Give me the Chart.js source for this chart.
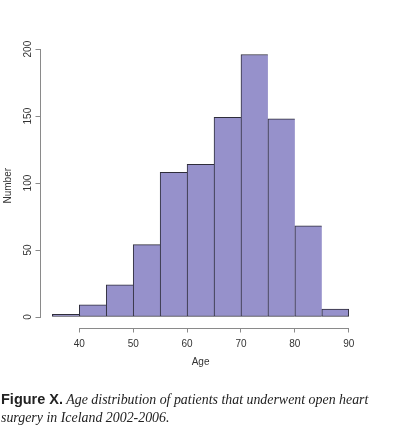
<!DOCTYPE html>
<html>
<head>
<meta charset="utf-8">
<script src="https://cdn.jsdelivr.net/npm/chart.js@4/dist/chart.umd.min.js"></script>
<style>
  html, body { margin: 0; padding: 0; background: #fff; }
  #wrap { position: relative; width: 400px; height: 444px; }
  #c { position: absolute; left: 0; top: 0; }
  #caption {
    position: absolute; left: 1px; top: 391px; width: 399px;
    font-size: 13.9px; line-height: 17.7px; color: #222;
    font-family: "Liberation Serif", serif; font-style: italic;
    white-space: nowrap;
  }
  #caption b { font-family: "Liberation Sans", Arial, sans-serif; font-style: normal; font-weight: bold; font-size: 14.5px; }
</style>
</head>
<body>
<div id="wrap">
  <canvas id="c" width="400" height="444"></canvas>
  <div id="caption"><b>Figure X.</b> Age distribution of patients that underwent open heart<br>surgery in Iceland 2002-2006.</div>
</div>
<script>
// Histogram bins (age breaks) and counts
const binStarts = [35, 40, 45, 50, 55, 60, 65, 70, 75, 80, 85];
const binWidth = 5;
const counts = [2, 9, 24, 54, 108, 114, 149, 196, 148, 68, 6];
const xTickValues = [40, 50, 60, 70, 80, 90];
const yTickValues = [0, 50, 100, 150, 200];
const xTitle = 'Age';
const yTitle = 'Number';

const FILL = '#9691CB';
const EDGE = '#2e2d3a';
const AXIS = '#8a8a8a';
const TEXT = '#333333';
const FONT = "'Liberation Sans', Arial, sans-serif";

// R-style axis extent: data range extended by 4%
const xLo = binStarts[0], xHi = binStarts[binStarts.length - 1] + binWidth;
const xPad = (xHi - xLo) * 0.04;
const yHiData = Math.max(...counts);
const yPad = yHiData * 0.04;

const points = binStarts.map((s, i) => ({ x: s + binWidth / 2, y: counts[i] }));

const rAxes = {
  id: 'rAxes',
  afterDraw(chart) {
    const { ctx, chartArea, scales: { x, y } } = chart;
    ctx.save();
    ctx.strokeStyle = AXIS;
    ctx.lineWidth = 1;
    ctx.beginPath();
    const by = Math.round(chartArea.bottom) + 0.5;
    ctx.moveTo(x.getPixelForValue(xTickValues[0]), by);
    ctx.lineTo(x.getPixelForValue(xTickValues[xTickValues.length - 1]), by);
    const lx = Math.round(chartArea.left) - 0.5;
    ctx.moveTo(lx, y.getPixelForValue(yTickValues[0]));
    ctx.lineTo(lx, y.getPixelForValue(yTickValues[yTickValues.length - 1]));
    ctx.stroke();
    ctx.restore();
  }
};

new Chart(document.getElementById('c'), {
  type: 'bar',
  data: {
    datasets: [{
      data: points,
      backgroundColor: FILL,
      borderColor: EDGE,
      borderSkipped: false,
      borderWidth: (c) => ({ top: 1, left: 1, bottom: 1, right: c.dataIndex === counts.length - 1 ? 1 : 0 }),
      barPercentage: 1,
      categoryPercentage: 1,
      grouped: false
    }]
  },
  plugins: [rAxes],
  options: {
    responsive: false,
    animation: false,
    events: [],
    layout: { padding: { top: 44, right: 39.4, left: 0, bottom: 75.5 } },
    plugins: { legend: { display: false }, tooltip: { enabled: false }, title: { display: false } },
    scales: {
      x: {
        type: 'linear',
        offset: false,
        min: xLo - xPad,
        max: xHi + xPad,
        afterBuildTicks: (s) => { s.ticks = xTickValues.map(v => ({ value: v })); },
        afterFit: (s) => { s.height = 41; },
        grid: { display: true, offset: false, drawOnChartArea: false, drawTicks: true, tickLength: 5, color: AXIS },
        border: { display: false },
        ticks: { color: TEXT, font: { family: FONT, size: 10 }, padding: 6, maxRotation: 0, autoSkip: false },
        title: { display: true, text: xTitle, color: TEXT, font: { family: FONT, size: 10 }, padding: { top: 0, bottom: 0 } }
      },
      y: {
        type: 'linear',
        min: -yPad,
        max: yHiData + yPad,
        afterBuildTicks: (s) => { s.ticks = yTickValues.map(v => ({ value: v })); },
        afterFit: (s) => { s.width = 40.5; },
        grid: { display: true, drawOnChartArea: false, drawTicks: true, tickLength: 5, color: AXIS },
        border: { display: false },
        ticks: { color: TEXT, font: { family: FONT, size: 10 }, padding: -1.5, minRotation: 90, maxRotation: 90, crossAlign: 'center', autoSkip: false },
        title: { display: true, text: yTitle, color: TEXT, font: { family: FONT, size: 10 }, padding: { top: 2, bottom: 2 } }
      }
    }
  }
});
</script>
</body>
</html>
